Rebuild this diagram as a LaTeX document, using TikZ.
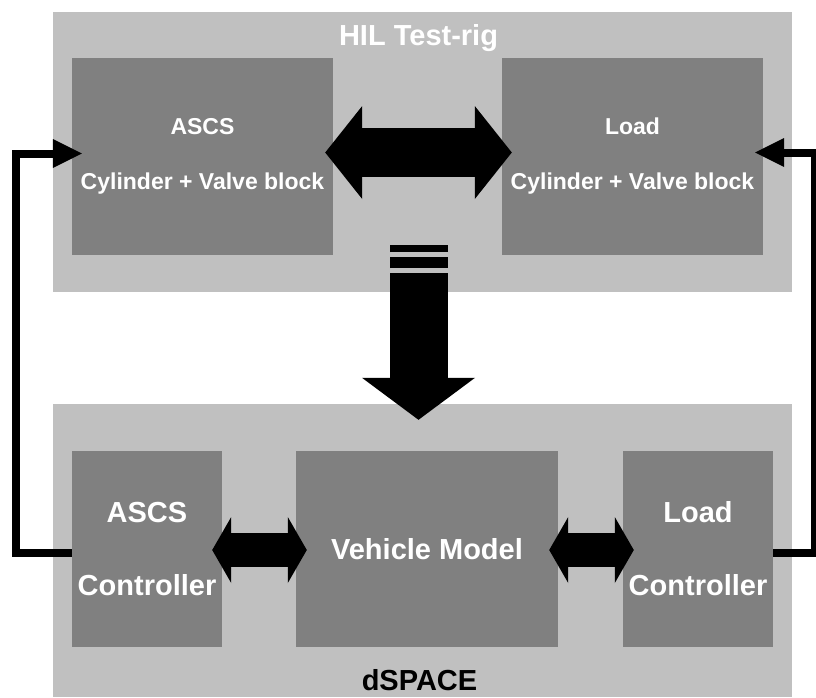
\documentclass[tikz,border=0pt]{standalone}
\usepackage{fontspec}
\setmainfont{Liberation Sans}
\usetikzlibrary{arrows.meta}

\definecolor{rigfill}{RGB}{192,192,192}
\definecolor{unitfill}{RGB}{128,128,128}

\tikzset{
  frame/.style={fill=rigfill, inner sep=0pt},
  unit/.style={fill=unitfill, text=white, align=center, inner sep=0pt},
  hilunit/.style={unit, minimum width=261pt, minimum height=197pt,
    font=\bfseries\fontsize{23}{55}\selectfont},
  ctrlunit/.style={unit, minimum width=150pt, minimum height=196pt,
    font=\bfseries\fontsize{29}{73}\selectfont},
  frametitle/.style={font=\bfseries\fontsize{29}{35}\selectfont, anchor=base, inner sep=0pt},
  feedback/.style={line width=8pt, -{Triangle[length=29pt,width=29pt,line width=0pt]}},
  fatlink/.style={line width=49pt,
    {Triangle[length=37pt,width=93pt,line width=0pt]}-{Triangle[length=37pt,width=93pt,line width=0pt]}},
  ctrllink/.style={line width=34pt,
    {Triangle[length=19pt,width=66pt,line width=0pt]}-{Triangle[length=19pt,width=66pt,line width=0pt]}},
  datalink/.style={line width=58pt, -{Triangle[length=42pt,width=113pt,line width=0pt]}}
}

\begin{document}
\begin{tikzpicture}[x=1pt, y=-1pt]
  \useasboundingbox (0,0) rectangle (816,697);

  % frames
  \node[frame, minimum width=739pt, minimum height=280pt] (rig) at (422.5,152) {};
  \node[frame, minimum width=739pt, minimum height=293pt] (dspace) at (422.5,550.5) {};
  \node[frametitle, text=white] (rigtitle) at ([xshift=-4pt,yshift=-34pt]rig.north) {HIL Test-rig};
  \node[frametitle] (dspacetitle) at ([xshift=-3pt,yshift=7pt]dspace.south) {dSPACE};

  % test-rig units
  \node[hilunit] (ascs) at (202.5,156.5) {ASCS\\Cylinder + Valve block};
  \node[hilunit] (load) at (632.5,156.5) {Load\\Cylinder + Valve block};

  % dSPACE units
  \node[ctrlunit] (ctrlA) at (147,549) {ASCS\\Controller};
  \node[ctrlunit, minimum width=262pt] (vehicle) at (427,549) {Vehicle Model};
  \node[ctrlunit] (ctrlL) at (698,549) {Load\\Controller};

  % links
  \draw[fatlink, shorten <=-8pt, shorten >=-10pt] ([yshift=4pt]ascs.east) -- ([yshift=4pt]load.west);
  \draw[ctrllink, shorten <=-10pt, shorten >=-11pt] ([yshift=-1pt]ctrlA.east) -- ([yshift=-1pt]vehicle.west);
  \draw[ctrllink, shorten <=-9pt, shorten >=-11pt] ([yshift=-1pt]vehicle.east) -- ([yshift=-1pt]ctrlL.west);

  % measured data down to dSPACE
  \coordinate (tail) at ([xshift=-4pt,yshift=19pt]rig.south);
  \draw[datalink, shorten >=-16pt] (tail) -- (tail |- dspace.north);
  \draw[line width=58pt] (tail) ++(0,-5) -- ++(0,-11);
  \draw[line width=58pt] (tail) ++(0,-21) -- ++(0,-7);

  % feedback
  \draw[feedback, shorten >=-10pt] ([yshift=-4pt]ctrlA.west) -- ++(-56,0) |- ([yshift=3pt]ascs.west);
  \draw[feedback, shorten >=-8pt] ([yshift=-4pt]ctrlL.east) -- ++(42,0) |- ([yshift=4pt]load.east);
\end{tikzpicture}
\end{document}
